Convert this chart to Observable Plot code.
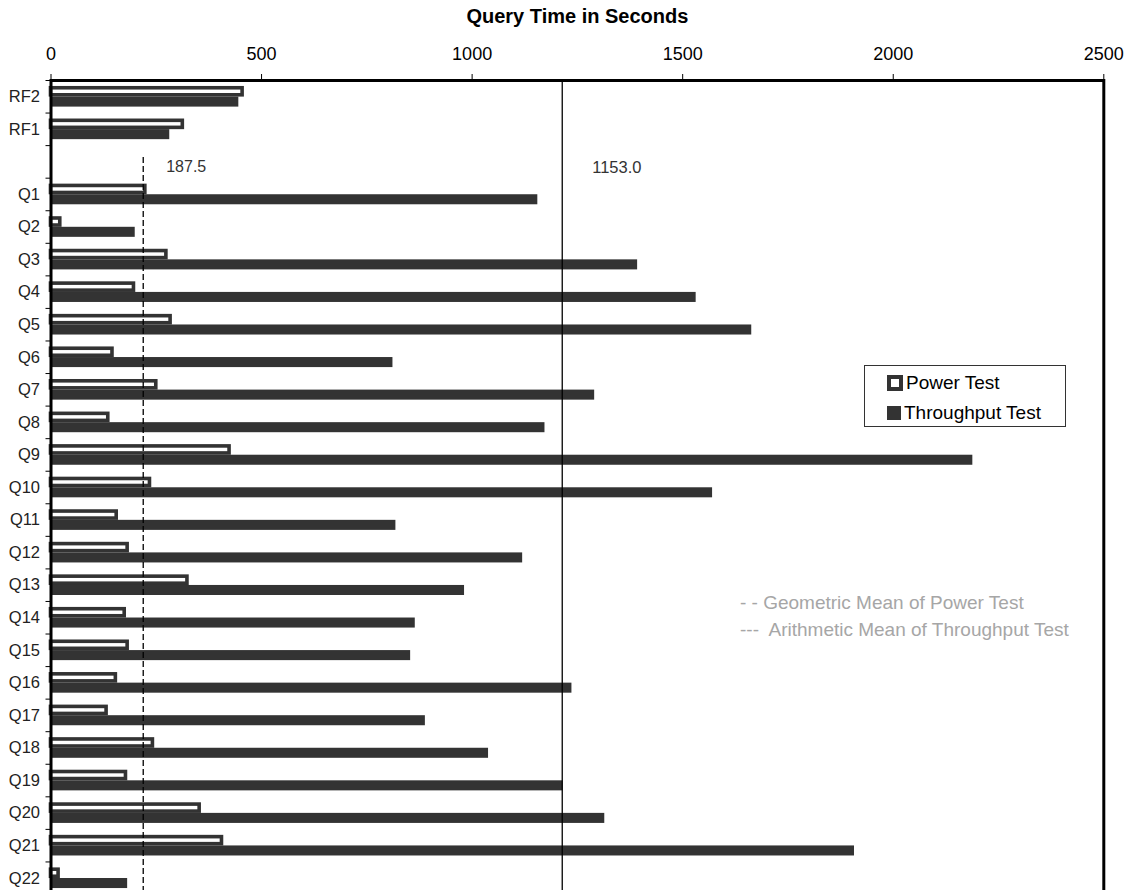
<!DOCTYPE html>
<html>
<head>
<meta charset="utf-8">
<script src="https://cdn.jsdelivr.net/npm/d3@7"></script>
<script src="https://cdn.jsdelivr.net/npm/@observablehq/plot@0.6"></script>
<style>
  body { margin: 0; background: #fff; font-family: "Liberation Sans", Arial, sans-serif; }
  #wrap { position: relative; width: 1126px; height: 890px; overflow: hidden; }
  #wrap svg { position: absolute; left: 0; top: 0; }
  .legend { position: absolute; left: 864px; top: 365px; width: 200px; height: 60px;
            border: 1px solid #333; background: #fff; font-size: 19px; color: #000; }
  .legend .row { position: absolute; left: 22px; display: flex; align-items: center; white-space: nowrap; }
  .legend .sw { display: inline-block; box-sizing: border-box; margin-right: 3px; }
  .notes { position: absolute; left: 740px; top: 589px; font-size: 19px; color: #a6a6a6;
           line-height: 27px; white-space: pre; }
</style>
</head>
<body>
<div id="wrap"></div>
<script>
// ---- data ----
const categories = ["RF2", "RF1", " ", "Q1", "Q2", "Q3", "Q4", "Q5", "Q6", "Q7", "Q8", "Q9", "Q10",
  "Q11", "Q12", "Q13", "Q14", "Q15", "Q16", "Q17", "Q18", "Q19", "Q20", "Q21", "Q22"];
const powerTest = [455, 313, null, 224, 22, 274, 197, 284, 146, 250, 136, 424, 235,
  156, 182, 324, 175, 182, 154, 132, 242, 178, 353, 406, 18];
const throughputTest = [446, 282, null, 1156, 200, 1393, 1532, 1664, 812, 1291, 1173, 2189, 1571,
  819, 1120, 982, 865, 854, 1237, 889, 1039, 1216, 1315, 1908, 182];
const xTicks = [0, 500, 1000, 1500, 2000, 2500];
const seriesNames = ["Power Test", "Throughput Test"];
const meanValues = [219, 1214];          // positions of the two mean lines as drawn
const meanLabels = ["187.5", "1153.0"];
const noteLines = ["- - Geometric Mean of Power Test", "---  Arithmetic Mean of Throughput Test"];
const axisTitle = "Query Time in Seconds";

// ---- tables ----
const power = categories.map((c, i) => ({cat: c, value: powerTest[i]})).filter(d => d.value != null);
const through = categories.map((c, i) => ({cat: c, value: throughputTest[i]})).filter(d => d.value != null);
const geo = [{v: meanValues[0], y1: " ", y2: categories[categories.length - 1], label: meanLabels[0]}];
const arith = [{v: meanValues[1], label: meanLabels[1]}];

const plotTop = 80, plotBottom = 894;
const step = (plotBottom - plotTop) / categories.length;
const font = "Liberation Sans, Arial, sans-serif";

const chart = Plot.plot({
  width: 1126,
  height: 890,
  marginLeft: 50.5,
  marginRight: 22.7,
  marginTop: plotTop,
  marginBottom: 890 - plotBottom,
  style: {fontFamily: font, background: "white", overflow: "hidden", color: "black"},
  x: {domain: [0, 2500], range: [50.5, 1103.3]},
  y: {domain: categories, range: [plotTop, plotBottom], paddingInner: 0.366, paddingOuter: 0.183, round: false},
  marks: [
    Plot.axisX({anchor: "top", ticks: xTicks, tickSize: 7, tickPadding: 14, fontSize: 18,
      tickFormat: d => String(d), label: null, stroke: "black"}),
    Plot.axisY({tickSize: 0, tickPadding: 11, fontSize: 16.5, label: null, fill: "#222"}),
    Plot.ruleY(categories, {y: d => d, x1: 0, x2: 0, insetLeft: -5, dy: -step / 2, stroke: "black"}),
    Plot.barX(power, {y: "cat", x: "value", fill: "white", stroke: "#333", strokeWidth: 3.6,
      insetTop: 1.8, insetBottom: 11.8}),
    Plot.barX(through, {y: "cat", x: "value", fill: "#333", insetTop: 10.6, insetBottom: 0}),
    Plot.ruleX(geo, {x: "v", y1: "y1", y2: "y2", insetTop: 6, insetBottom: -8, stroke: "black",
      strokeWidth: 1.3, strokeDasharray: "6,3"}),
    Plot.ruleX(arith, {x: "v", stroke: "black", strokeWidth: 1.3}),
    Plot.text(geo, {x: "v", y: () => " ", text: "label", dx: 23, dy: 4.5, textAnchor: "start",
      fontSize: 16, fill: "#333"}),
    Plot.text(arith, {x: "v", y: () => " ", text: "label", dx: 30, dy: 5.5, textAnchor: "start",
      fontSize: 16.5, fill: "#333"}),
    Plot.text([axisTitle], {frameAnchor: "top", lineAnchor: "middle", text: d => d, dy: -64,
      fontSize: 20, fontWeight: "bold", fill: "black"}),
    Plot.frame({stroke: "black", strokeWidth: 3})
  ]
});

const wrap = document.getElementById("wrap");
wrap.appendChild(chart);

// legend
const legend = document.createElement("div");
legend.className = "legend";
const swatches = [
  {top: 6, size: 16, style: "background:#fff;border:4px solid #333;"},
  {top: 36, size: 14, style: "background:#333;"}
];
seriesNames.forEach((name, i) => {
  const row = document.createElement("div");
  row.className = "row";
  row.style.top = swatches[i].top + "px";
  const sw = document.createElement("span");
  sw.className = "sw";
  sw.style.cssText += `width:${swatches[i].size}px;height:${swatches[i].size}px;` + swatches[i].style;
  row.appendChild(sw);
  const t = document.createElement("span");
  t.textContent = name;
  row.appendChild(t);
  legend.appendChild(row);
});
wrap.appendChild(legend);

// notes
const notes = document.createElement("div");
notes.className = "notes";
notes.textContent = noteLines.join("\n");
wrap.appendChild(notes);
</script>
</body>
</html>
